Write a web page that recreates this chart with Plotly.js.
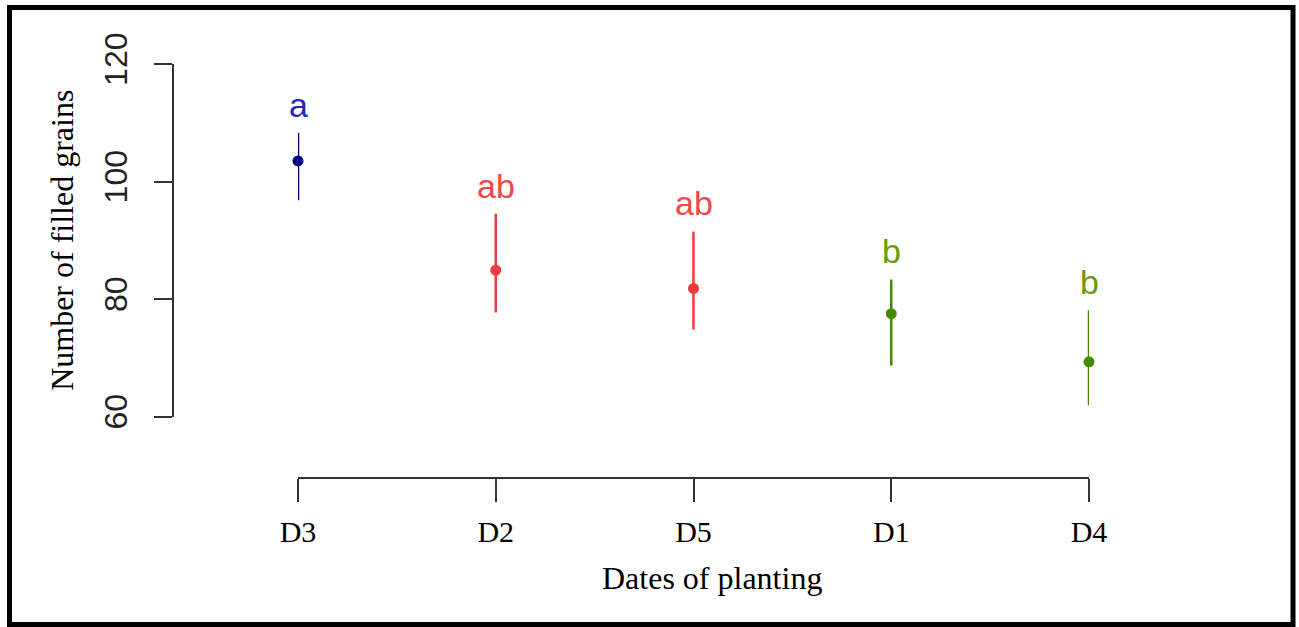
<!DOCTYPE html>
<html>
<head>
<meta charset="utf-8">
<script src="https://cdn.plot.ly/plotly-3.0.1.min.js"></script>
<style>html,body{margin:0;padding:0;background:#fff;}#chart{width:1299px;height:627px;}</style>
</head>
<body>
<div id="chart"></div>
<script>
// Data
var categories = ['D3', 'D2', 'D5', 'D1', 'D4'];
var means      = [103.5, 84.9, 81.8, 77.5, 69.3];
var lower      = [96.8, 77.7, 74.8, 68.7, 61.9];
var upper      = [108.3, 94.5, 91.5, 83.3, 78.1];
var letters    = ['a', 'ab', 'ab', 'b', 'b'];
var yTicks     = [60, 80, 100, 120];

// Styles
var pointColors  = ['#000080', '#EE3B3B', '#EE3B3B', '#458B00', '#458B00'];
var letterColors = ['#2828B8', '#F04848', '#F04848', '#6A9A10', '#6A9A10'];
var serif = '"Liberation Serif", "Times New Roman", serif';
var sans  = '"Liberation Sans", Arial, sans-serif';
var W = 1299, H = 627;

var traces = categories.map(function (c, i) {
  return {
    type: 'scatter', mode: 'markers',
    x: [c], y: [means[i]],
    marker: {color: pointColors[i], size: 11},
    error_y: {
      type: 'data', symmetric: false,
      array: [upper[i] - means[i]],
      arrayminus: [means[i] - lower[i]],
      color: pointColors[i], thickness: 2.5, width: 0
    },
    cliponaxis: false, showlegend: false, hoverinfo: 'x+y'
  };
});

var annotations = categories.map(function (c, i) {
  return {
    x: c, y: upper[i] + 4.8, xref: 'x', yref: 'y',
    text: letters[i], showarrow: false, yanchor: 'middle',
    font: {family: sans, size: 34, color: letterColors[i]}
  };
});
annotations.push({
  xref: 'paper', yref: 'paper', x: 711.5 / W, y: 1 - 578 / H,
  xanchor: 'center', yanchor: 'middle', showarrow: false,
  text: 'Dates of planting',
  font: {family: serif, size: 32, color: '#000'}
});

var layout = {
  width: W, height: H,
  margin: {l: 0, r: 0, t: 0, b: 0},
  paper_bgcolor: '#fff', plot_bgcolor: 'rgba(0,0,0,0)',
  showlegend: false,
  xaxis: {
    type: 'category', categoryorder: 'array', categoryarray: categories,
    range: [0, categories.length - 1],
    domain: [298 / W, 1089 / W],
    anchor: 'free', position: 1 - 478 / H,
    showline: true, linecolor: '#333', linewidth: 2,
    ticks: 'outside', ticklen: 23, tickwidth: 2, tickcolor: '#333',
    showgrid: false, zeroline: false,
    tickfont: {family: serif, size: 30, color: '#000'},
    ticklabelstandoff: 4,
    fixedrange: true
  },
  yaxis: {
    range: [60, 120],
    domain: [1 - 416.5 / H, 1 - 64 / H],
    anchor: 'free', position: 173 / W,
    tickmode: 'array', tickvals: yTicks, ticktext: yTicks.map(String),
    showline: true, linecolor: '#333', linewidth: 2,
    ticks: 'outside', ticklen: 18, tickwidth: 2, tickcolor: '#333',
    showgrid: false, zeroline: false,
    tickangle: -90,
    tickfont: {family: sans, size: 32, color: '#222'},
    ticklabelstandoff: 14,
    title: {text: 'Number of filled grains', font: {family: serif, size: 32, color: '#000'}, standoff: 14},
    fixedrange: true
  },
  annotations: annotations,
  shapes: [{
    type: 'rect', xref: 'paper', yref: 'paper',
    x0: 9.5 / W, x1: 1293 / W, y0: 1 - 624.5 / H, y1: 1 - 7.5 / H,
    line: {color: '#000', width: 5}, fillcolor: 'rgba(0,0,0,0)', layer: 'above'
  }]
};

Plotly.newPlot('chart', traces, layout, {displayModeBar: false, staticPlot: true});
</script>
</body>
</html>
